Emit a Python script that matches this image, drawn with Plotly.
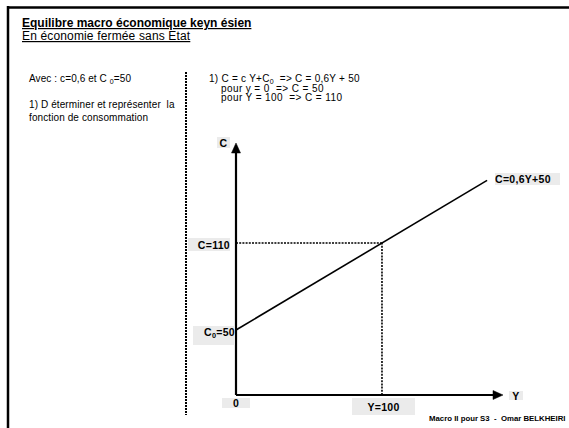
import plotly.graph_objects as go

# data
Y_line = [0, 100, 172]
C_line = [50, 110, 153.2]
Y_mark = 100
C_mark = 110
C0 = 50

W, H = 569, 428
# plot area in pixels
L, R, T, B = 236, 503, 143, 395
x_range = [0, 182.9]
y_range = [5.17, 178.97]

def px(x):
    return (x - L) / (R - L)

def py(y):
    return (B - y) / (B - T)

FONT = "Arial, Liberation Sans, sans-serif"
GREY = "#ebebeb"

def sp(s, ls):
    return f'<span style="letter-spacing:{ls}px">{s}</span>'

fig = go.Figure()
fig.add_trace(go.Scatter(x=[Y_line[0], Y_line[-1]], y=[C_line[0], C_line[-1]],
                         mode="lines", line=dict(color="black", width=1.6),
                         hoverinfo="skip", cliponaxis=False))

shapes = []
# frame
shapes.append(dict(type="line", xref="paper", yref="paper", x0=px(7), x1=px(569),
                   y0=py(7.5), y1=py(7.5), line=dict(color="black", width=2.5)))
shapes.append(dict(type="line", xref="paper", yref="paper", x0=px(8), x1=px(8),
                   y0=py(6), y1=py(428), line=dict(color="black", width=2.5)))
# separator
shapes.append(dict(type="line", xref="paper", yref="paper", x0=px(186), x1=px(186),
                   y0=py(72), y1=py(415), line=dict(color="black", width=2, dash="2px,1px")))
# guide lines
shapes.append(dict(type="line", xref="x", yref="y", x0=0, x1=Y_mark, y0=C_mark, y1=C_mark,
                   line=dict(color="black", width=1.6, dash="2px,1.2px")))
shapes.append(dict(type="line", xref="x", yref="y", x0=Y_mark, x1=Y_mark, y0=y_range[0], y1=C_mark,
                   line=dict(color="black", width=1.6, dash="2px,1.2px")))
# axes
shapes.append(dict(type="line", xref="paper", yref="paper", x0=0, x1=px(495),
                   y0=0, y1=0, line=dict(color="black", width=2.2)))
shapes.append(dict(type="line", xref="paper", yref="paper", x0=0, x1=0,
                   y0=0, y1=py(151), line=dict(color="black", width=2.2)))
shapes.append(dict(type="path", xref="paper", yref="paper",
                   path=f"M {px(493)},{py(390.5)} L {px(503)},{py(395)} L {px(493)},{py(399.5)} Z",
                   fillcolor="black", line=dict(color="black", width=0.5)))
shapes.append(dict(type="path", xref="paper", yref="paper",
                   path=f"M {px(231.5)},{py(153)} L {px(236)},{py(143)} L {px(240.5)},{py(153)} Z",
                   fillcolor="black", line=dict(color="black", width=0.5)))

ann = []

def text(x, y, s, size=10, anchor="left"):
    ann.append(dict(x=px(x), y=py(y), xref="paper", yref="paper", text=s, showarrow=False,
                    xanchor=anchor, yanchor="middle", align="left",
                    font=dict(family=FONT, size=size, color="black")))

def box(x0, x1, y0, y1, s, align="center", valign="middle", size=10.5):
    ann.append(dict(x=px((x0 + x1) / 2), y=py((y0 + y1) / 2), xref="paper", yref="paper",
                    text="<b>" + sp(s, 0.3) + "</b>", showarrow=False, xanchor="center", yanchor="middle",
                    width=x1 - x0, height=y1 - y0, align=align, valign=valign,
                    bgcolor=GREY, borderpad=0, borderwidth=0,
                    font=dict(family=FONT, size=size, color="black")))

text(20, 23.5, "<b><u>Equilibre macro économique keyn ésien</u></b>", size=12)
text(20, 36, "<u>" + sp("En économie fermée sans Etat", 0.15) + "</u>", size=12)

text(27, 79, sp("Avec : c=0,6 et C <sub>0</sub>=50", 0.1))
text(27, 104.5, sp("1) D éterminer et représenter  la", 0.1))
text(27, 118, sp("fonction de consommation", 0.1))

text(207, 79, sp("1) C = c Y+C<sub>0</sub>  => C = 0,6Y + 50", 0.25))
text(219, 88, sp("pour y = 0  => C = 50", 0.4))
text(219, 97, sp("pour Y = 100  => C = 110", 0.4))

box(217, 230, 137, 148, "C")
box(188, 230, 238, 251, "C=110", align="right")
box(193, 235, 326, 345, "C<sub>0</sub>=50", align="right", valign="top")
box(222, 250, 398, 408, "0")
box(352, 415, 398, 415, "Y=100")
box(495, 560, 173, 185, "C=0,6Y+50", align="left")
box(509, 523, 391, 400, "Y")

text(497, 418, "<b>Macro II pour S3  -  Omar BELKHEIRI</b>", size=7.8, anchor="center")

fig.update_layout(
    width=W, height=H,
    margin=dict(l=L, r=W - R, t=T, b=H - B, pad=0),
    paper_bgcolor="white", plot_bgcolor="white",
    xaxis=dict(range=x_range, visible=False, fixedrange=True),
    yaxis=dict(range=y_range, visible=False, fixedrange=True),
    showlegend=False, shapes=shapes, annotations=ann,
)

fig.write_html("out.html", config={"displayModeBar": False},
               post_script="document.body.style.margin='0';")
